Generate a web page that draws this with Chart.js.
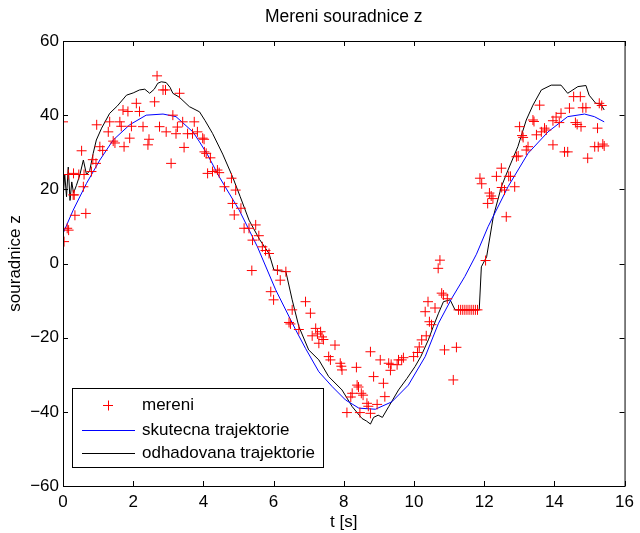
<!DOCTYPE html>
<html>
<head>
<meta charset="utf-8">
<script src="https://cdn.jsdelivr.net/npm/chart.js@4"></script>
<style>
  html, body { margin: 0; padding: 0; background: #fff; }
  #wrap { width: 640px; height: 533px; }
</style>
</head>
<body>
<div id="wrap"><canvas id="chart" width="640" height="533"></canvas></div>
<script>
// measured positions (red crosses)
const measT = [0, 0.03, 0.12, 0.15, 0.16, 0.29, 0.3, 0.32, 0.34, 0.45, 0.53, 0.58, 0.6, 0.65, 0.81, 0.85, 0.94, 0.96,
  1.05, 1.13, 1.29, 1.33, 1.43, 1.48, 1.62, 1.66, 1.71, 1.74, 1.85, 1.9, 1.95, 2.09, 2.18, 2.28, 2.42, 2.45,
  2.61, 2.68, 2.75, 2.85, 2.92, 2.94, 3.08, 3.13, 3.22, 3.26, 3.32, 3.41, 3.45, 3.55, 3.69, 3.74, 3.83, 3.98,
  4.02, 4.03, 4.08, 4.12, 4.2, 4.26, 4.4, 4.45, 4.6, 4.8, 4.83, 4.88, 4.92, 5.07, 5.16, 5.3, 5.38, 5.4, 5.49,
  5.58, 5.68, 5.77, 5.87, 5.92, 6.0, 6.11, 6.19, 6.35, 6.44, 6.48, 6.53, 6.72, 6.91, 7.05, 7.1, 7.2, 7.25,
  7.29, 7.34, 7.38, 7.42, 7.57, 7.62, 7.75, 7.9, 7.93, 7.95, 8.09, 8.2, 8.24, 8.36, 8.38, 8.42, 8.46, 8.5,
  8.55, 8.66, 8.7, 8.76, 8.76, 8.85, 8.95, 9.04, 9.13, 9.17, 9.28, 9.33, 9.35, 9.52, 9.56, 9.65, 9.7, 9.99,
  10.1, 10.15, 10.22, 10.32, 10.35, 10.4, 10.44, 10.5, 10.6, 10.69, 10.74, 10.79, 10.84, 10.87, 10.95, 11.12,
  11.21, 11.27, 11.33, 11.39, 11.45, 11.51, 11.57, 11.63, 11.69, 11.75, 11.81, 11.88, 11.93, 12.04, 12.1,
  12.15, 12.2, 12.25, 12.35, 12.49, 12.5, 12.58, 12.63, 12.7, 12.75, 12.87, 12.92, 12.97, 13.01, 13.08,
  13.11, 13.2, 13.25, 13.39, 13.42, 13.49, 13.58, 13.63, 13.72, 13.77, 13.96, 13.96, 14.05, 14.14, 14.19,
  14.29, 14.38, 14.43, 14.55, 14.6, 14.65, 14.74, 14.76, 14.81, 14.9, 14.95, 15.15, 15.23, 15.25, 15.28,
  15.35, 15.38, 15.42];
const measZ = [38.2, 5.9, 9.5, 24, 9, 18.5, 24.3, 18.5, 13, 24, 30.4, 20.7, 24, 13.5, 24.8, 28, 27, 37.4,
  31.5, 30.5, 35.5, 38.2, 33, 32.5, 38.2, 37, 41.4, 31.5, 41, 33.8, 37, 43.2, 41, 36.9, 32, 33.5,
  43.6, 50.6, 36.9, 46.8, 46.8, 35.5, 27, 40, 35, 36.8, 45.9, 38.2, 31.3, 35, 35, 38.2, 35.5, 33.8,
  33.5, 30.1, 29.7, 24.3, 28.5, 24.8, 25.2, 24.5, 20.7, 23, 16.2, 13.1, 19.8, 14.9, 9.5, 9.5, -1.9, 6.3, 10.4,
  7.5, 4.5, 3.5, 2.7, -7.6, -9.8, -1.75, -4.5, -2.2, -15.9, -16.3, -12.5, -17.8, -10.3, -13.4, -19.5, -17.5, -19,
  -21.5, -18.4, -19.8, -20.5, -25.1, -26, -22, -26.9, -27.7, -28.7, -40.2, -36, -35, -28, -32.8, -33.3, -40.2, -35,
  -35.5, -37.7, -38.5, -23.8, -40.4, -30.5, -38, -26, -32.3, -35.9, -26.9, -28.8, -27.2, -27.3, -26, -26, -25.4, -25.1,
  -24, -22.5, -20.6, -13, -19.5, -10.3, -15.7, -16.5, -12, -1.3, 0.9, -8, -8.5, -23.3, -9.5, -31.4,
  -22.6, -12.5, -12.5, -12.5, -12.5, -12.5, -12.5, -12.5, -12.5, -12.5, -12.5, 23, 21.5, 0.8, 16.2,
  19, 18.2, 17.5, 23.5, 25.7, 20.5, 19.8, 12.6, 23.5, 23.5, 20.7, 28.8, 29, 36.9, 34.5,
  34, 30.6, 31.5, 38.7, 38.3, 34.7, 42.7, 35.5, 36.5, 36, 32, 38.5, 39.5, 38, 40.5,
  30.1, 30.1, 41.9, 45, 38, 37.5, 45, 36.9, 42, 42, 28.4, 31.5, 36.5, 31.5, 43.2,
  42.6, 32.2, 31.7];

// true trajectory (blue)
const trueT = [0, 0.29, 0.67, 1.05, 1.43, 1.9, 2.37, 2.85, 3.22, 3.7, 3.89, 4.12, 4.45, 5.02, 5.54, 6.06,
  6.63, 6.91, 7.29, 7.67, 8.05, 8.43, 8.9, 9.37, 9.84, 10.32, 10.7, 11.07, 11.45, 11.78, 12.11, 12.68,
  13.25, 13.82, 14.38, 14.86, 15.14, 15.42];
const trueZ = [8.1, 14.4, 21.6, 27.9, 33.3, 37.4, 40, 40.3, 39.6, 35.5, 32.8, 29.3, 23.4, 14.4, 4.5, -7.1,
  -17.9, -22.9, -29.2, -33.2, -36.8, -39, -39.3, -37.3, -32.8, -25.1, -16.1, -9.5, -3.5, 2.5, 9.9, 20.7,
  29.7, 35.5, 39.6, 40.3, 39.6, 38.2];

// estimated trajectory (black)
const estT = [0, 0.05, 0.1, 0.15, 0.2, 0.25, 0.3, 0.38, 0.48, 0.58, 0.67, 0.76, 0.86, 0.95, 1.1, 1.33, 1.55,
  1.81, 2.0, 2.18, 2.33, 2.47, 2.6, 2.7, 2.8, 2.94, 3.05, 3.13, 3.32, 3.6, 3.89, 4.05, 4.26, 4.55, 4.83,
  5.05, 5.3, 5.6, 5.87, 6.01, 6.35, 6.53, 6.72, 7.0, 7.29, 7.57, 7.95, 8.24, 8.52, 8.65, 8.76, 8.85, 8.98,
  9.1, 9.28, 9.56, 9.8, 10.03, 10.2, 10.41, 10.55, 10.7, 10.84, 11.03, 11.17, 11.86, 11.92, 12.07, 12.26,
  12.49, 12.68, 12.96, 13.2, 13.39, 13.63, 13.91, 14.19, 14.38, 14.67, 14.9, 14.99, 15.18, 15.32, 15.42];
const estZ = [17.5, 24, 18, 26, 17, 22, 19, 21, 23.9, 27.9, 24, 25, 29.7, 33.3, 36.5, 40.5, 42.5,
  45.4, 46, 46.8, 47, 45.9, 47, 48.6, 49, 48.8, 47.5, 45.9, 44.8, 42.3, 40.9, 38.5, 35.1, 29.5, 23.4,
  18, 11.7, 6.5, 2.7, -1.75, -2.2, -9.8, -17, -23.3, -26, -30.5, -34.1, -38.6, -41.8, -42.5, -43.3, -41.5, -40.9,
  -41.5, -38.6, -34.1, -31, -27.8, -25, -20.6, -17, -13.4, -10.3, -9.8, -12.5, -12.5, -0.9, 1.8, 12.6,
  20.7, 25.2, 31.5, 38.7, 42.7, 46.8, 48.1, 48.1, 45.9, 47.7, 48, 45.4, 43.2, 43, 41.4];

const xTicks = [0, 2, 4, 6, 8, 10, 12, 14, 16];
const yTicks = [-60, -40, -20, 0, 20, 40, 60];

const FONT = 'Liberation Sans, Arial, Helvetica, sans-serif';

const pts = (xs, ys) => xs.map((x, i) => ({ x: x, y: ys[i] }));

// box, inward ticks, title and legend drawn MATLAB style
const matlabFrame = {
  id: 'matlabFrame',
  afterDatasetsDraw(chart) {
    const { ctx, chartArea: a, scales } = chart;
    ctx.save();
    ctx.strokeStyle = '#000';
    ctx.lineWidth = 1;
    ctx.strokeRect(a.left + 0.5, a.top + 0.5, a.right - a.left, a.bottom - a.top);
    ctx.beginPath();
    xTicks.forEach(v => {
      const px = Math.round(scales.x.getPixelForValue(v)) + 0.5;
      ctx.moveTo(px, a.bottom); ctx.lineTo(px, a.bottom - 5);
      ctx.moveTo(px, a.top); ctx.lineTo(px, a.top + 5);
    });
    yTicks.forEach(v => {
      const py = Math.round(scales.y.getPixelForValue(v)) + 0.5;
      ctx.moveTo(a.left, py); ctx.lineTo(a.left + 5, py);
      ctx.moveTo(a.right, py); ctx.lineTo(a.right - 5, py);
    });
    ctx.stroke();

    // title
    ctx.fillStyle = '#000';
    ctx.font = '17.5px ' + FONT;
    ctx.textAlign = 'center';
    ctx.textBaseline = 'middle';
    ctx.fillText('Mereni souradnice z', (a.left + a.right) / 2, 17);

    // legend
    const lx = 72, ly = 388, lw = 251, lh = 79;
    ctx.fillStyle = '#fff';
    ctx.fillRect(lx, ly, lw, lh);
    ctx.strokeRect(lx + 0.5, ly + 0.5, lw, lh);
    const rows = [405, 430, 453];
    chart.data.datasets.forEach((ds, i) => {
      const y = rows[i] + 0.5;
      ctx.strokeStyle = ds.borderColor;
      ctx.beginPath();
      if (ds.showLine === false) {
        ctx.moveTo(103, y); ctx.lineTo(113, y);
        ctx.moveTo(108.5, y - 5); ctx.lineTo(108.5, y + 5);
      } else {
        ctx.moveTo(82, y); ctx.lineTo(135, y);
      }
      ctx.stroke();
      ctx.fillStyle = '#000';
      ctx.font = '17px ' + FONT;
      ctx.textAlign = 'left';
      ctx.fillText(ds.label, 142, rows[i]);
    });
    ctx.restore();
  }
};

new Chart(document.getElementById('chart'), {
  type: 'scatter',
  data: {
    datasets: [{
      label: 'mereni',
      data: pts(measT, measZ),
      showLine: false,
      pointStyle: 'cross',
      pointRadius: 5,
      borderColor: '#ff0000',
      borderWidth: 1
    }, {
      label: 'skutecna trajektorie',
      data: pts(trueT, trueZ),
      showLine: true,
      pointRadius: 0,
      borderColor: '#0000ff',
      borderWidth: 1,
      tension: 0
    }, {
      label: 'odhadovana trajektorie',
      data: pts(estT, estZ),
      showLine: true,
      pointRadius: 0,
      borderColor: '#000000',
      borderWidth: 1,
      tension: 0
    }]
  },
  options: {
    responsive: false,
    animation: false,
    events: [],
    layout: { padding: { top: 41, right: 13, left: 0, bottom: 0 } },
    plugins: {
      legend: { display: false },
      title: { display: false },
      tooltip: { enabled: false }
    },
    scales: {
      x: {
        type: 'linear',
        min: 0, max: 16,
        afterFit: s => { s.height = 47; },
        afterBuildTicks: s => { s.ticks = xTicks.map(v => ({ value: v })); },
        grid: { display: false, drawTicks: false },
        border: { display: false },
        ticks: { color: '#000', font: { family: FONT, size: 17 }, padding: 6, maxRotation: 0 },
        title: { display: true, text: 't [s]', color: '#000', font: { family: FONT, size: 17 }, padding: { top: 0, bottom: 0 } }
      },
      y: {
        type: 'linear',
        min: -60, max: 60,
        afterFit: s => { s.width = 63; },
        afterBuildTicks: s => { s.ticks = yTicks.map(v => ({ value: v })); },
        grid: { display: false, drawTicks: false },
        border: { display: false },
        ticks: {
          color: '#000', font: { family: FONT, size: 17 }, padding: 4,
          callback: v => String(v).replace('-', '\u2212')
        },
        title: { display: true, text: 'souradnice z', color: '#000', font: { family: FONT, size: 17 }, padding: { top: 5, bottom: 0 } }
      }
    }
  },
  plugins: [matlabFrame]
});
</script>
</body>
</html>
